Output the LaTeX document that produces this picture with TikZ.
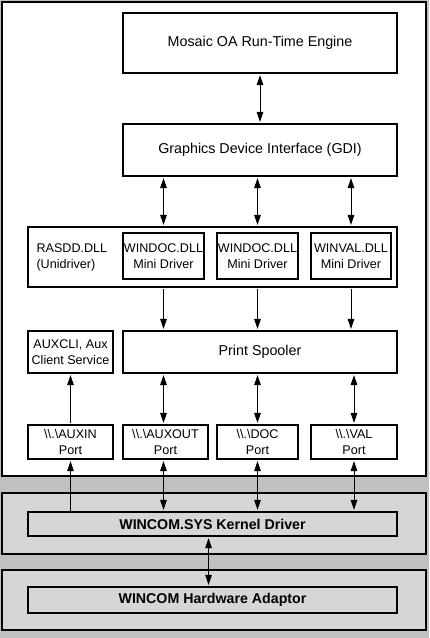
\documentclass[tikz,border=0pt]{standalone}
\usepackage{fontspec}
\setmainfont{Liberation Sans}
\usetikzlibrary{arrows.meta}
\definecolor{outergray}{RGB}{192,192,192}
\definecolor{panelgray}{RGB}{214,214,214}

\begin{document}
\begin{tikzpicture}[x=1pt,y=-1pt,
   box/.style={draw=black,line width=1.1pt,rectangle,inner sep=0pt,align=center,font=\fontsize{14.3}{17}\selectfont},
   minibox/.style={box,font=\fontsize{12.6}{15.5}\selectfont},
   kbox/.style={box,fill=panelgray,font=\fontsize{14.2}{17}\selectfont\bfseries},
   tip/.style={line width=0.9pt,-{Triangle[width=6.5pt,length=10pt]},shorten >=1.5pt,shorten <=1.5pt},
   dbl/.style={tip,{Triangle[width=6.5pt,length=10pt]}-{Triangle[width=6.5pt,length=10pt]}}]
   \useasboundingbox (0,0) rectangle (429,638);
   \fill[outergray] (0,0) rectangle (429,638);
   \draw[line width=1.2pt,fill=white] (2,2) rectangle (426,476);
   \draw[line width=1.2pt,fill=panelgray] (2,493) rectangle (426,554);
   \draw[line width=1.2pt,fill=panelgray] (2,570) rectangle (426,630);
   \begin{scope}[every node/.style={box}]
    \node[minimum width=274pt,minimum height=60pt] (mosaic) at (260,43) {Mosaic OA Run-Time Engine};
    \node[minimum width=274pt,minimum height=52pt] (gdi) at (260,150) {Graphics Device Interface (GDI)};
    \node[minimum width=369pt,minimum height=60pt] (rasdd) at (212.5,257) {};
    \node[minimum width=274pt,minimum height=42pt] (spooler) at (260,352) {Print Spooler};
   \end{scope}
   \node[anchor=west,align=left,font=\fontsize{12.6}{16}\selectfont] (rasddtxt) at (33,257) {RASDD.DLL\\(Unidriver)};
   \begin{scope}[every node/.style={minibox,minimum height=46pt}]
    \node[minimum width=81pt] (windocA) at (163.5,256) {WINDOC.DLL\\Mini Driver};
    \node[minimum width=81pt] (windocB) at (257.5,256) {WINDOC.DLL\\Mini Driver};
    \node[minimum width=80pt] (winval) at (351,256) {WINVAL.DLL\\Mini Driver};
   \end{scope}
   \node[minibox,minimum width=85pt,minimum height=42pt] (auxcli) at (70.5,352) {AUXCLI, Aux\\Client Service};
   \begin{scope}[every node/.style={minibox,minimum height=34pt}]
    \node[minimum width=85pt] (auxin) at (70.5,442) {\textbackslash\textbackslash.\textbackslash AUXIN\\Port};
    \node[minimum width=85pt] (auxout) at (165.5,442) {\textbackslash\textbackslash.\textbackslash AUXOUT\\Port};
    \node[minimum width=81pt] (doc) at (257.5,442) {\textbackslash\textbackslash.\textbackslash DOC\\Port};
    \node[minimum width=86pt] (val) at (354,442) {\textbackslash\textbackslash.\textbackslash VAL\\Port};
   \end{scope}
   \node[kbox,minimum width=369pt,minimum height=24pt] (kernel) at (212.5,524) {WINCOM.SYS Kernel Driver};
   \node[kbox,minimum width=369pt,minimum height=26pt] (hw) at (212.5,600) {WINCOM Hardware Adaptor};
   % connectors
   \draw[dbl] (mosaic) -- (gdi);
   \draw[dbl] (gdi.south -| windocA) -- (rasdd.north -| windocA);
   \draw[dbl] (gdi.south -| windocB) -- (rasdd.north -| windocB);
   \draw[dbl] (gdi.south -| winval) -- (rasdd.north -| winval);
   \draw[tip] (rasdd.south -| windocA) -- (spooler.north -| windocA);
   \draw[tip] (rasdd.south -| windocB) -- (spooler.north -| windocB);
   \draw[tip] (rasdd.south -| winval) -- (spooler.north -| winval);
   \draw[tip] (auxin) -- (auxcli);
   \draw[dbl] (spooler.south -| windocA) -- (auxout.north -| windocA);
   \draw[dbl] (spooler.south -| windocB) -- (doc.north -| windocB);
   \draw[dbl] (spooler.south -| val) -- (val.north);
   \draw[tip,shorten <=0pt] (kernel.north -| auxin) -- (auxin.south);
   \draw[dbl] (auxout.south -| windocA) -- (kernel.north -| windocA);
   \draw[dbl] (doc.south -| windocB) -- (kernel.north -| windocB);
   \draw[dbl] (val.south) -- (kernel.north -| val);
   \draw[dbl] (kernel.south -| auxout.east) -- (hw.north -| auxout.east);
\end{tikzpicture}
\end{document}
